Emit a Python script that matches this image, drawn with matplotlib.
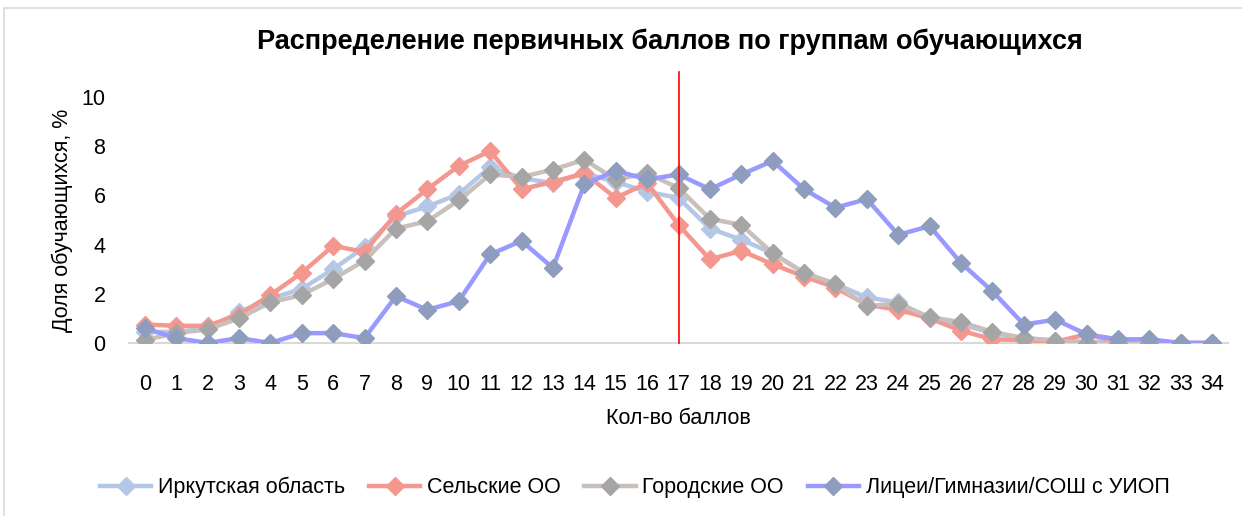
import matplotlib
matplotlib.use("Agg")
import matplotlib.pyplot as plt
from matplotlib import font_manager

# ── Data ──────────────────────────────────────────────────────────────────────
scores = list(range(35))

irkutsk = [0.45, 0.45, 0.6, 1.25, 1.8, 2.2, 3.0, 3.9, 5.15, 5.55, 6.05, 7.15,
           6.7, 6.5, 6.9, 6.55, 6.15, 5.9, 4.65, 4.2, 3.65, 2.85, 2.4, 1.85,
           1.65, 1.0, 0.75, 0.4, 0.2, 0.1, 0.05, 0.02, 0.0, 0.0, 0.0]
rural = [0.75, 0.7, 0.7, 1.15, 1.95, 2.85, 3.95, 3.7, 5.25, 6.25, 7.2, 7.8,
         6.25, 6.55, 6.9, 5.9, 6.5, 4.8, 3.4, 3.75, 3.2, 2.7, 2.25, 1.55,
         1.35, 1.0, 0.5, 0.15, 0.12, 0.05, 0.35, 0.05, 0.0, 0.0, 0.0]
urban = [0.12, 0.4, 0.55, 1.0, 1.65, 1.95, 2.6, 3.35, 4.65, 4.95, 5.8, 6.85,
         6.75, 7.05, 7.45, 6.65, 6.9, 6.3, 5.05, 4.8, 3.65, 2.85, 2.4, 1.5,
         1.6, 1.05, 0.85, 0.45, 0.2, 0.1, 0.0, 0.0, 0.0, 0.0, 0.0]
lyceum = [0.6, 0.2, 0.0, 0.2, 0.0, 0.4, 0.4, 0.2, 1.9, 1.35, 1.7, 3.6,
          4.15, 3.05, 6.45, 7.0, 6.65, 6.85, 6.25, 6.85, 7.4, 6.25, 5.5, 5.85,
          4.4, 4.75, 3.25, 2.1, 0.75, 0.95, 0.35, 0.15, 0.15, 0.0, 0.0]

series_names = ["Иркутская область", "Сельские ОО", "Городские ОО",
                "Лицеи/Гимназии/СОШ с УИОП"]
threshold = 17

# ── Style ─────────────────────────────────────────────────────────────────────
LINE_COLORS = ["#B4C7E7", "#F4978E", "#C9C0BB", "#9999FF"]
MARKER_COLORS = ["#B4C7E7", "#F4978E", "#A5A5A5", "#8E9DBD"]

available = {f.name for f in font_manager.fontManager.ttflist}
FONT = "Liberation Sans Narrow" if "Liberation Sans Narrow" in available else "Liberation Sans"
plt.rcParams["font.family"] = [FONT, "DejaVu Sans"]

fig = plt.figure(figsize=(12.42, 5.16), dpi=100)
ax = fig.add_axes([0.1039, 0.3353, 0.8848, 0.4767])

for data, name, lc, mc in zip([irkutsk, rural, urban, lyceum], series_names,
                              LINE_COLORS, MARKER_COLORS):
    ax.plot(scores, data, color=lc, linewidth=3.2, marker="D", markersize=9,
            markerfacecolor=mc, markeredgecolor=mc, label=name, zorder=3)

ax.plot([threshold, threshold], [0, 11], color="#FF0000", linewidth=1.2,
        clip_on=False, zorder=4)

ax.set_xlim(-0.5, 34.5)
ax.set_ylim(0, 10)
ax.set_yticks([0, 2, 4, 6, 8, 10])
ax.set_xticks(scores)
ax.tick_params(axis="both", length=0, labelsize=15.5)
ax.tick_params(axis="y", pad=17)
ax.tick_params(axis="x", pad=22)
for s in ["top", "right", "left"]:
    ax.spines[s].set_visible(False)
ax.spines["bottom"].set_color("#D9D9D9")
ax.spines["bottom"].set_linewidth(1.5)

ax.set_xlabel("Кол-во баллов", fontsize=15.5, labelpad=10)
ax.set_ylabel("Доля обучающихся, %", fontsize=15.5, labelpad=6)
fig.text(0.539, 0.92, "Распределение первичных баллов по группам обучающихся",
         ha="center", va="center", fontsize=19.5, fontweight="bold")

fig.legend(loc="center", bbox_to_anchor=(0.511, 0.055), ncol=4, frameon=False,
           fontsize=15.5, handlelength=2.4, columnspacing=1.1, handletextpad=0.3)

# chart frame
fig.patches.append(plt.Rectangle((0.003, -0.01), 1.2, 0.995, transform=fig.transFigure,
                                 fill=False, edgecolor="#D9D9D9", linewidth=1.2))

fig.savefig("out.png", dpi=100)
